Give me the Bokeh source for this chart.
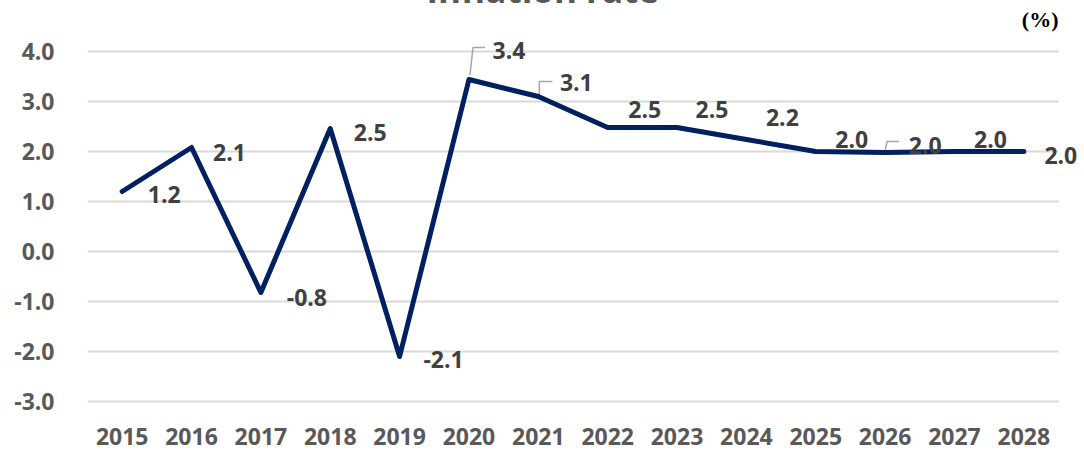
from bokeh.plotting import figure
from bokeh.models import (Range1d, FixedTicker, PrintfTickFormatter,
                          ColumnDataSource, LabelSet, Title)
from bokeh.core.properties import value
from bokeh.embed import file_html
from bokeh.resources import INLINE

# ---- data ----
years = ["2015", "2016", "2017", "2018", "2019", "2020", "2021",
         "2022", "2023", "2024", "2025", "2026", "2027", "2028"]
rates = [1.2, 2.08, -0.82, 2.46, -2.1, 3.44, 3.1, 2.48, 2.48, 2.24, 2.0, 1.98, 2.0, 2.0]
y_ticks = [-3, -2, -1, 0, 1, 2, 3, 4]
title_text = "Inflation rate"
unit_text = "(%)"

# ---- style: label offsets in screen px (dx right, dy down) ----
lab_dx = [42, 38, 46, 40, 44, 40, 38, 37, 35, 36, 36, 40, 36, 37]
lab_dy = [3, 5, 5, 4, 3, -29, -14, -18, -18, -22, -12, -7, -12, 4]
# leader lines (index, list of (dx, dy) px relative to point)
leaders = {5: [(1, -4), (4, -32), (16, -32)],
           6: [(1, -1), (1, -15), (14, -15)],
           11: [(0, -2), (2, -11), (14, -11)]}

FONT = "Open Sans"
BL, BR, BT, BB = 87, 0, 76, 70
frame_w = 995
frame_h = 370
W = BL + frame_w + BR
H = BT + frame_h + BB
y0, y1 = -3.1, 4.3
px_x = 971 / len(years)         # px per category
px_y = frame_h / (y1 - y0)
xs = list(range(len(years)))
x0 = -0.5
x1 = x0 + frame_w / px_x

p = figure(width=W, height=H, x_range=Range1d(x0, x1),
           y_range=Range1d(y0, y1), output_backend="svg", toolbar_location=None,
           min_border_left=BL, min_border_right=BR, min_border_top=BT,
           min_border_bottom=BB)
p.margin = (-40, -30, -60, 0)
p.outline_line_color = None
p.background_fill_color = "white"
p.border_fill_color = "white"

p.xgrid.grid_line_color = None
p.ygrid.grid_line_color = None

for ax in (p.xaxis[0], p.yaxis[0]):
    ax.axis_line_color = None
    ax.major_tick_line_color = None
    ax.minor_tick_line_color = None
    ax.major_tick_out = 0
    ax.major_tick_in = 0
    ax.minor_tick_out = 0
    ax.minor_tick_in = 0
    ax.major_label_text_font = FONT
    ax.major_label_text_font_style = "bold"
    ax.major_label_text_font_size = "23px"
    ax.major_label_text_color = "#595959"
p.yaxis.ticker = FixedTicker(ticks=y_ticks)
p.yaxis.formatter = PrintfTickFormatter(format="%.1f")
p.yaxis.major_label_standoff = 33
p.xaxis.ticker = FixedTicker(ticks=xs)
p.xaxis.major_label_overrides = {i: y for i, y in enumerate(years)}
p.xaxis.major_label_standoff = 21

# horizontal gridlines spanning the categories
p.segment(x0=[-0.5] * len(y_ticks), x1=[len(years) - 0.5] * len(y_ticks),
          y0=y_ticks, y1=y_ticks, line_color="#d9d9d9", line_width=2)

# leader lines
lx, ly = [], []
for i, pts in leaders.items():
    lx.append([xs[i] + dx / px_x for dx, dy in pts])
    ly.append([rates[i] - dy / px_y for dx, dy in pts])
p.multi_line(xs=lx, ys=ly, line_color="#a6a6a6", line_width=1.5)

src = ColumnDataSource(dict(x=xs, y=rates, t=[f"{v:.1f}" for v in rates],
                            dx=lab_dx, dy=[-d for d in lab_dy]))
p.line("x", "y", source=src, line_color="#002060", line_width=5,
       line_join="round", line_cap="round")

labels = LabelSet(x="x", y="y", text="t", source=src, x_offset="dx", y_offset="dy",
                  text_align="center", text_baseline="middle",
                  text_font=value(FONT), text_font_style="bold",
                  text_font_size="23px", text_color="#404040")
p.add_layout(labels)

# main title (outer), then the unit label nearest the frame
p.title.text = title_text
p.title.align = "left"
p.title.offset = 339
p.title.standoff = -26
p.title.text_font = FONT
p.title.text_font_style = "bold"
p.title.text_font_size = "35px"
p.title.text_color = "#595959"

p.add_layout(Title(text=unit_text, align="right", offset=24, standoff=10,
                   text_font="Liberation Serif", text_font_style="bold",
                   text_font_size="22px", text_color="#000000"), "above")

open("out.html", "w").write(file_html(p, INLINE))
